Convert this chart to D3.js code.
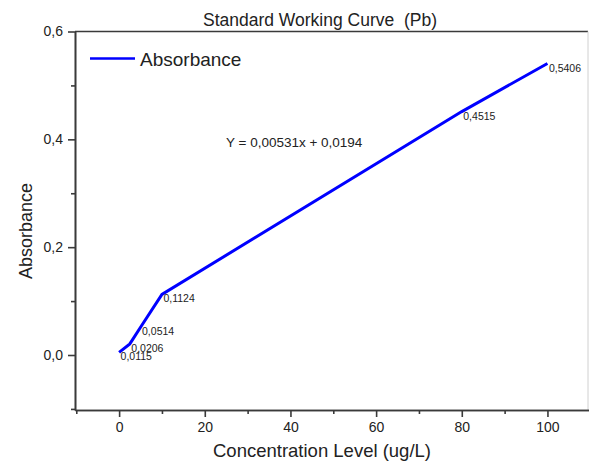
<html lang="en">
<head>
  <meta charset="UTF-8">
  <title>Standard Working Curve (Pb)</title>
  <script src="https://d3js.org/d3.v7.min.js"></script>
</head>
<style>
  body {
    margin: 0;
    background: white;
  }
  text {
    font-family: "Liberation Sans", Arial, sans-serif;
    fill: #222;
  }
  .axis path, .axis line {
    stroke: #3a3a3a;
    stroke-width: 1.6;
  }
  .axis text {
    font-size: 14px;
    fill: #222;
  }
</style>
<body>
  <svg class="graph" width="589" height="463"></svg>
  <script>
    // data
    const concentration = [0, 2.5, 5, 10, 80, 100];
    const absorbance = [0.005, 0.0206, 0.0514, 0.1124, 0.4515, 0.5406];
    const pointLabels = ["0,0115", "0,0206", "0,0514", "0,1124", "0,4515", "0,5406"];
    const xTicks = [0, 20, 40, 60, 80, 100];
    const xMinorTicks = [-10, 10, 30, 50, 70, 90, 110];
    const yTicks = [0, 0.2, 0.4, 0.6];
    const yMinorTicks = [-0.1, 0.1, 0.3, 0.5];

    const svg = d3.select('svg.graph');
    const margins = { top: 31.5, right: 0, bottom: 53, left: 75 };
    const width = +svg.attr('width');
    const height = +svg.attr('height');

    const locale = d3.formatLocale({ decimal: ",", thousands: ".", grouping: [3], currency: ["", ""] });
    const yFormat = locale.format(".1f");

    const xScale = d3.scaleLinear().domain([-10.3, 109.7]).range([margins.left, width - margins.right]);
    const yScale = d3.scaleLinear().domain([-0.102, 0.6]).range([height - margins.bottom, margins.top]);

    // frame: top dark line, faint right line
    svg.append('line')
      .attr('x1', margins.left).attr('x2', width - 1)
      .attr('y1', margins.top).attr('y2', margins.top)
      .attr('stroke', '#3a3a3a').attr('stroke-width', 1.6);
    svg.append('line')
      .attr('x1', width - 1).attr('x2', width - 1)
      .attr('y1', margins.top).attr('y2', height - margins.bottom)
      .attr('stroke', '#d0d0d0').attr('stroke-width', 1);

    // bottom axis
    svg.append('g')
      .attr('class', 'axis')
      .attr('transform', `translate(0,${height - margins.bottom})`)
      .call(d3.axisBottom(xScale).tickValues(xMinorTicks).tickSize(4).tickSizeOuter(0).tickFormat(''));
    svg.append('g')
      .attr('class', 'axis')
      .attr('transform', `translate(0,${height - margins.bottom})`)
      .call(d3.axisBottom(xScale).tickValues(xTicks).tickSize(7).tickSizeOuter(0).tickPadding(5));

    // left axis
    svg.append('g')
      .attr('class', 'axis')
      .attr('transform', `translate(${margins.left},0)`)
      .call(d3.axisLeft(yScale).tickValues(yMinorTicks).tickSize(4).tickSizeOuter(0).tickFormat(''));
    svg.append('g')
      .attr('class', 'axis')
      .attr('transform', `translate(${margins.left},0)`)
      .call(d3.axisLeft(yScale).tickValues(yTicks).tickSize(7).tickSizeOuter(0).tickPadding(5).tickFormat(yFormat));

    // curve
    const points = concentration.map((c, i) => ({ x: c, y: absorbance[i], label: pointLabels[i] }));
    const line = d3.line().x(d => xScale(d.x)).y(d => yScale(d.y));
    svg.append('path')
      .datum(points)
      .attr('d', line)
      .attr('fill', 'none')
      .attr('stroke', '#0000ff')
      .attr('stroke-width', 3);

    svg.selectAll('.ptlabel')
      .data(points)
      .enter().append('text')
      .attr('class', 'ptlabel')
      .attr('x', d => xScale(d.x) + 1.5)
      .attr('y', d => yScale(d.y) + 8)
      .style('font-size', '10.5px')
      .text(d => d.label);

    // equation
    svg.append('text')
      .attr('x', 226)
      .attr('y', 147)
      .style('font-size', '13.5px')
      .text('Y = 0,00531x + 0,0194');

    // title
    svg.append('text')
      .attr('x', 320)
      .attr('y', 26)
      .attr('text-anchor', 'middle')
      .style('font-size', '17.5px')
      .style('white-space', 'pre')
      .text('Standard Working Curve  (Pb)');

    // axis titles
    svg.append('text')
      .attr('x', 322)
      .attr('y', 457)
      .attr('text-anchor', 'middle')
      .style('font-size', '18.5px')
      .text('Concentration Level (ug/L)');
    svg.append('text')
      .attr('transform', 'translate(32,231) rotate(-90)')
      .attr('text-anchor', 'middle')
      .style('font-size', '18px')
      .text('Absorbance');

    // legend
    svg.append('line')
      .attr('x1', 90).attr('x2', 135)
      .attr('y1', 58.5).attr('y2', 58.5)
      .attr('stroke', '#0000ff').attr('stroke-width', 2.5);
    svg.append('text')
      .attr('x', 140)
      .attr('y', 66)
      .style('font-size', '19px')
      .text('Absorbance');
  </script>
</body>
</html>
